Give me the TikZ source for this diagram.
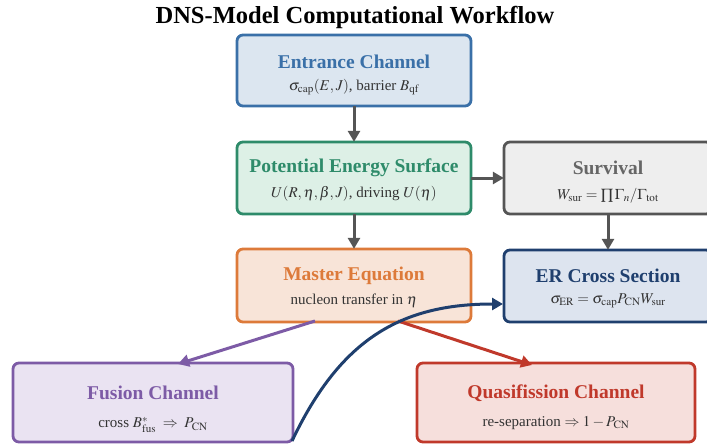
\documentclass[tikz,border=0pt]{standalone}
\usepackage{mathptmx}
\usepackage[no-math]{fontspec}
\setmainfont{Liberation Serif}
\usetikzlibrary{arrows.meta}
\definecolor{cEnt}{HTML}{3A70A8}\definecolor{fEnt}{HTML}{DCE6F0}
\definecolor{cPes}{HTML}{2E8B6A}\definecolor{fPes}{HTML}{DDF0E6}
\definecolor{cSur}{HTML}{555555}\definecolor{fSur}{HTML}{EEEEEE}\definecolor{tSur}{HTML}{666666}
\definecolor{cMas}{HTML}{DD7A3A}\definecolor{fMas}{HTML}{F8E4D8}
\definecolor{cEr}{HTML}{1F3F6E}\definecolor{fEr}{HTML}{DDE4EF}
\definecolor{cFus}{HTML}{7D5BA6}\definecolor{fFus}{HTML}{EAE3F2}
\definecolor{cQf}{HTML}{C0392B}\definecolor{fQf}{HTML}{F6DFDC}
\definecolor{cTxt}{HTML}{333333}
\definecolor{cArr}{HTML}{555555}
\begin{document}
\begin{tikzpicture}[x=1pt,y=-1pt,
  box/.style={draw, line width=2.8pt, rounded corners=6pt},
  ttl/.style={font=\fontsize{19.5}{22}\selectfont\bfseries, inner sep=0pt},
  sub/.style={font=\fontsize{15}{18}\selectfont, text=cTxt, inner sep=0pt},
  garr/.style={draw=cArr, line width=3pt, -{Triangle[length=11pt,width=12pt]}},
  carr/.style={line width=3pt, -{Triangle[length=11pt,width=12pt]}}]
\useasboundingbox (0,0) rectangle (707,445);
\node[font=\fontsize{24.5}{28}\selectfont\bfseries, inner sep=0pt] (title) at (355,17) {DNS-Model Computational Workflow};
% boxes
\path[box, draw=cEnt, fill=fEnt] (237,35) rectangle (471,106);
\node[inner sep=0pt, minimum width=234pt, minimum height=71pt] (ent) at (354,70.5) {};
\node[ttl, text=cEnt] (entT) at (354,62) {Entrance Channel};
\node[sub] (entS) at (354,87) {$\sigma_{\mathrm{cap}}(E,J)$, barrier $B_{\mathrm{qf}}$};

\path[box, draw=cPes, fill=fPes] (237,142) rectangle (471,214);
\node[inner sep=0pt, minimum width=234pt, minimum height=72pt] (pes) at (354,178) {};
\node[ttl, text=cPes] (pesT) at (354,168) {Potential Energy Surface};
\node[sub] (pesS) at (354,194) {$U(R,\eta,\beta,J)$, driving $U(\eta)$};

\path[box, draw=cSur, fill=fSur] (504,142) rectangle (712,214);
\node[inner sep=0pt, minimum width=208pt, minimum height=72pt] (sur) at (608,178) {};
\node[ttl, text=tSur] (surT) at (608,168) {Survival};
\node[sub] (surS) at (608,196) {$W_{\mathrm{sur}}=\prod\Gamma_n/\Gamma_{\mathrm{tot}}$};

\path[box, draw=cMas, fill=fMas] (237,249) rectangle (471,322);
\node[inner sep=0pt, minimum width=234pt, minimum height=73pt] (mas) at (354,285.5) {};
\node[ttl, text=cMas] (masT) at (354,276) {Master Equation};
\node[sub] (masS) at (354,301) {nucleon transfer in $\eta$};

\path[box, draw=cEr, fill=fEr] (504,250) rectangle (712,322);
\node[inner sep=0pt, minimum width=208pt, minimum height=72pt] (er) at (608,286) {};
\node[ttl, text=cEr] (erT) at (608,276) {ER Cross Section};
\node[sub] (erS) at (608,301) {$\sigma_{\mathrm{ER}}=\sigma_{\mathrm{cap}}P_{\mathrm{CN}}W_{\mathrm{sur}}$};

\path[box, draw=cFus, fill=fFus] (13,363) rectangle (293,442);
\node[inner sep=0pt, minimum width=280pt, minimum height=79pt] (fus) at (153,402.5) {};
\node[ttl, text=cFus] (fusT) at (153,393) {Fusion Channel};
\node[sub] (fusS) at (153,425) {cross $B^{*}_{\mathrm{fus}}\;\Rightarrow\;P_{\mathrm{CN}}$};

\path[box, draw=cQf, fill=fQf] (417,363) rectangle (695,442);
\node[inner sep=0pt, minimum width=278pt, minimum height=79pt] (qf) at (556,402.5) {};
\node[ttl, text=cQf] (qfT) at (556,393) {Quasifission Channel};
\node[sub] (qfS) at (556,423) {re-separation $\Rightarrow 1-P_{\mathrm{CN}}$};

% connectors
\draw[garr] (ent.south) -- (pes.north);
\draw[garr] (pes.south) -- (mas.north);
\draw[garr] (pes.east) -- (sur.west);
\draw[garr] (sur.south) -- (er.north);
\coordinate (mF) at (315,321);
\coordinate (mQ) at (398,321);
\coordinate (fusIn) at (178,364);
\coordinate (qfIn) at (532,365);
\coordinate (fusOut) at (292,441);
\coordinate (erIn) at (503,304);
\draw[carr, draw=cFus] (mF) -- (fusIn);
\draw[carr, draw=cQf] (mQ) -- (qfIn);
\draw[carr, draw=cEr] (fusOut) .. controls (340,340) and (400,304) .. (erIn);
\end{tikzpicture}
\end{document}
